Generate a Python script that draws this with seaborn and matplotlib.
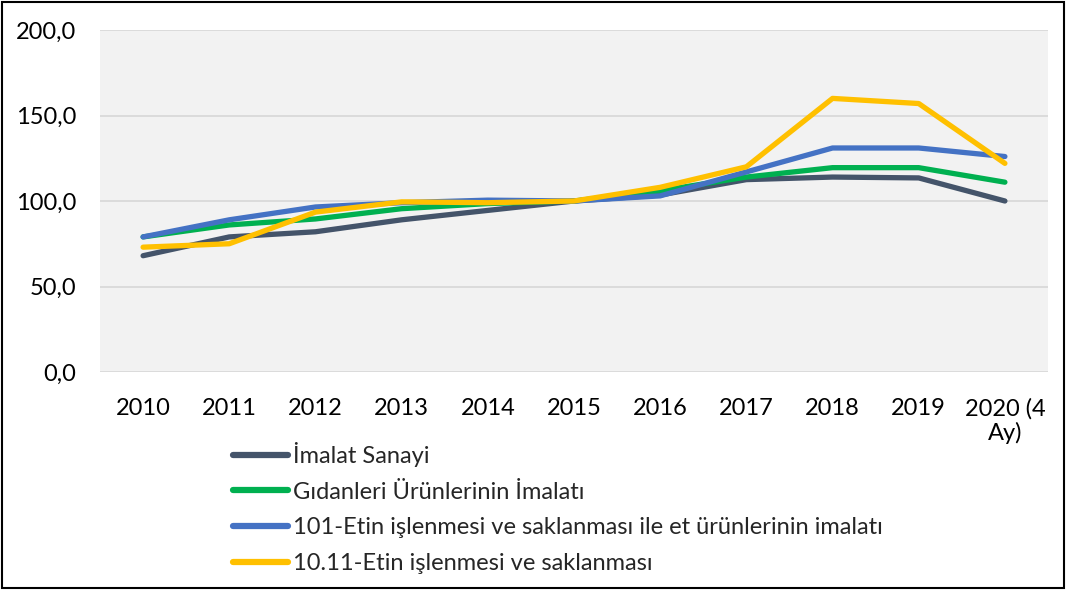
import matplotlib
matplotlib.use("Agg")
import matplotlib.pyplot as plt
import matplotlib.patches as mpatches
import seaborn as sns
import pandas as pd

years = ["2010", "2011", "2012", "2013", "2014", "2015", "2016", "2017", "2018", "2019", "2020 (4\nAy)"]
imalat = [68.0, 79.0, 82.0, 89.0, 94.5, 100.0, 103.5, 112.5, 114.0, 113.5, 100.0]
gida = [79.0, 86.0, 89.5, 95.5, 98.5, 100.0, 106.0, 114.0, 119.5, 119.5, 111.0]
et_urun = [79.0, 89.0, 96.5, 99.0, 100.5, 100.0, 103.0, 117.0, 131.0, 131.0, 126.0]
et_isleme = [73.0, 75.0, 93.5, 99.5, 99.0, 100.0, 108.0, 120.0, 160.0, 157.0, 122.0]

series_names = [
    "İmalat Sanayi",
    "Gıdanleri Ürünlerinin İmalatı",
    "101-Etin işlenmesi ve saklanması ile et ürünlerinin imalatı",
    "10.11-Etin işlenmesi ve saklanması",
]
colors = ["#44546a", "#00b050", "#4472c4", "#ffc000"]

rows = []
for name, vals in zip(series_names, [imalat, gida, et_urun, et_isleme]):
    for i, v in enumerate(vals):
        rows.append({"idx": i, "value": v, "series": name})
df = pd.DataFrame(rows)

sns.set_theme(style="white")
plt.rcParams["font.family"] = ["Lato", "DejaVu Sans"]

fig = plt.figure(figsize=(10.66, 5.9), dpi=100)
ax = fig.add_axes([100 / 1066, 1 - 372 / 590, 948 / 1066, 342 / 590])
ax.set_facecolor("#f2f2f2")

sns.lineplot(data=df, x="idx", y="value", hue="series", hue_order=series_names,
             palette=colors, linewidth=3.8, ax=ax, legend=False,
             solid_capstyle="round")

ax.set_xlim(-0.5, len(years) - 0.5)
ax.set_ylim(0, 200)
ax.set_yticks([0, 50, 100, 150, 200])
ax.set_yticklabels(["0,0", "50,0", "100,0", "150,0", "200,0"], fontsize=17)
ax.set_xticks(range(len(years)))
ax.set_xticklabels(years, fontsize=17, va="top", linespacing=1.1)
ax.tick_params(axis="y", length=0, pad=17, colors="black")
ax.tick_params(axis="x", length=0, pad=19, colors="black")
ax.yaxis.grid(True, color="#d9d9d9", linewidth=1.3)
ax.set_axisbelow(True)
for s in ax.spines.values():
    s.set_visible(False)
ax.set_xlabel("")
ax.set_ylabel("")

handles = [plt.Line2D([0], [0], color=c, linewidth=4.5, solid_capstyle="round") for c in colors]
fig.legend(handles, series_names, loc="upper left", bbox_to_anchor=(233 / 1066, 1 - 442 / 590),
           frameon=False, fontsize=17, handlelength=2.35, handletextpad=0.2,
           labelspacing=0.62, borderaxespad=0, borderpad=0)

fig.patches.append(mpatches.Rectangle((0.002, 0.003), 0.996, 0.994, transform=fig.transFigure,
                                      fill=False, edgecolor="black", linewidth=1.5))

fig.savefig("out.png", dpi=100, facecolor="white")
